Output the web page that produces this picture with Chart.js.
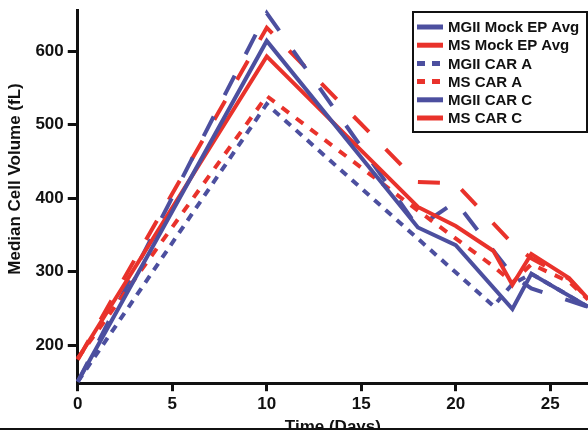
<!DOCTYPE html>
<html lang="en">
<head>
  <meta charset="UTF-8">
  <title>Median Cell Volume</title>
  <script src="https://cdn.jsdelivr.net/npm/chart.js"></script>
  <style>
    body { margin: 0; background: #fff; }
    #wrap { position: relative; width: 588px; height: 428px; overflow: hidden; }
    #bottomLine { width: 588px; height: 2px; background: #111; }
  </style>
</head>
<body>
  <div id="wrap">
    <canvas id="volChart" width="588" height="444"></canvas>
  </div>
  <div id="bottomLine"></div>

<script>
  // values (days / median volume in fL)
  const mgiiMockDays = [0, 10, 18, 20, 23, 24, 27];
  const mgiiMockVol  = [150, 614, 360, 336, 249, 297, 252];

  const msMockDays = [0, 10, 18, 20, 22, 23, 24, 26, 27];
  const msMockVol  = [181, 593, 388, 362, 328, 282, 324, 291, 263];

  const mgiiCarADays = [0, 10, 22, 23, 24, 27];
  const mgiiCarAVol  = [150, 528, 253, 283, 297, 252];

  const msCarADays = [0, 10, 18, 22, 23, 24, 26, 27];
  const msCarAVol  = [182, 539, 383, 307, 285, 310, 286, 262];

  const mgiiCarCDays = [0, 10, 18, 20, 23, 24, 27];
  const mgiiCarCVol  = [150, 652, 360, 395, 295, 277, 252];

  const msCarCDays = [0, 10, 18, 20, 23, 24, 26, 27];
  const msCarCVol  = [180, 632, 422, 420, 338, 318, 290, 263];

  const xTicks = [0, 5, 10, 15, 20, 25];
  const yTicks = [200, 300, 400, 500, 600];

  const BLUE = '#4c4f9f';
  const RED = '#e9322b';
  const FONT = 'Liberation Sans, Arial, sans-serif';
  const Y_TITLE = 'Median Cell Volume (fL)';

  function pts(xs, ys) {
    return xs.map((x, i) => ({ x: x, y: ys[i] }));
  }

  function series(label, xs, ys, color, dash) {
    return {
      label,
      data: pts(xs, ys),
      borderColor: color,
      backgroundColor: color,
      borderWidth: 4,
      borderDash: dash,
      pointRadius: 0,
      tension: 0,
      clip: false
    };
  }

  // boxed key in the top right corner + y title sitting a bit above centre
  const boxLegend = {
    id: 'boxLegend',
    afterDraw(chart) {
      const ctx = chart.ctx;
      const x0 = 413, y0 = 12, w = 174, h = 120;
      ctx.save();
      ctx.fillStyle = '#fff';
      ctx.fillRect(x0, y0, w, h);
      ctx.lineWidth = 2;
      ctx.strokeStyle = '#111';
      ctx.strokeRect(x0, y0, w, h);
      ctx.font = 'bold 15px ' + FONT;
      ctx.textBaseline = 'middle';
      chart.data.datasets.forEach((ds, i) => {
        const y = 27 + i * 18.2;
        const isA = ds.label.indexOf('CAR A') >= 0;
        ctx.beginPath();
        ctx.setLineDash(isA ? [8, 7] : []);
        ctx.lineWidth = 5;
        ctx.strokeStyle = ds.borderColor;
        ctx.moveTo(417, y);
        ctx.lineTo(443, y);
        ctx.stroke();
        ctx.setLineDash([]);
        ctx.fillStyle = '#111';
        ctx.fillText(ds.label, 448, y + 1);
      });

      ctx.font = 'bold 17px ' + FONT;
      ctx.textAlign = 'center';
      ctx.translate(15, 179);
      ctx.rotate(-Math.PI / 2);
      ctx.fillText(Y_TITLE, 0, 0);
      ctx.restore();
    }
  };

  const ctx = document.getElementById('volChart').getContext('2d');
  new Chart(ctx, {
    type: 'line',
    data: {
      datasets: [
        series('MGII Mock EP Avg', mgiiMockDays, mgiiMockVol, BLUE, []),
        series('MS Mock EP Avg', msMockDays, msMockVol, RED, []),
        series('MGII CAR A', mgiiCarADays, mgiiCarAVol, BLUE, [8, 7]),
        series('MS CAR A', msCarADays, msCarAVol, RED, [9, 9]),
        series('MGII CAR C', mgiiCarCDays, mgiiCarCVol, BLUE, [22, 24]),
        series('MS CAR C', msCarCDays, msCarCVol, RED, [22, 24])
      ]
    },
    plugins: [boxLegend],
    options: {
      responsive: false,
      animation: false,
      layout: { padding: { top: 4, right: 0, bottom: 2, left: 7 } },
      plugins: {
        legend: { display: false },
        tooltip: { enabled: false }
      },
      scales: {
        x: {
          type: 'linear',
          min: 0,
          max: 27,
          afterBuildTicks: s => { s.ticks = xTicks.map(v => ({ value: v })); },
          ticks: { color: '#111', padding: 3, font: { family: FONT, size: 17, weight: 'bold' } },
          grid: { drawOnChartArea: false, drawTicks: true, tickLength: 8, tickWidth: 3, tickColor: '#111' },
          border: { display: true, color: '#111', width: 3 },
          title: {
            display: true,
            text: 'Time (Days)',
            color: '#111',
            padding: { top: 0, bottom: 4 },
            font: { family: FONT, size: 17, weight: 'bold' }
          }
        },
        y: {
          min: 148,
          max: 655,
          afterBuildTicks: s => { s.ticks = yTicks.map(v => ({ value: v })); },
          ticks: { color: '#111', padding: 4, font: { family: FONT, size: 17, weight: 'bold', lineHeight: 0.8 } },
          grid: { drawOnChartArea: false, drawTicks: true, tickLength: 10, tickWidth: 3, tickColor: '#111' },
          border: { display: true, color: '#111', width: 3 },
          title: {
            // keeps the room for the title; the text itself is drawn by boxLegend
            display: true,
            text: Y_TITLE,
            color: 'rgba(0,0,0,0)',
            padding: { top: 0, bottom: 4 },
            font: { family: FONT, size: 17, weight: 'bold' }
          }
        }
      }
    }
  });
</script>
</body>
</html>
